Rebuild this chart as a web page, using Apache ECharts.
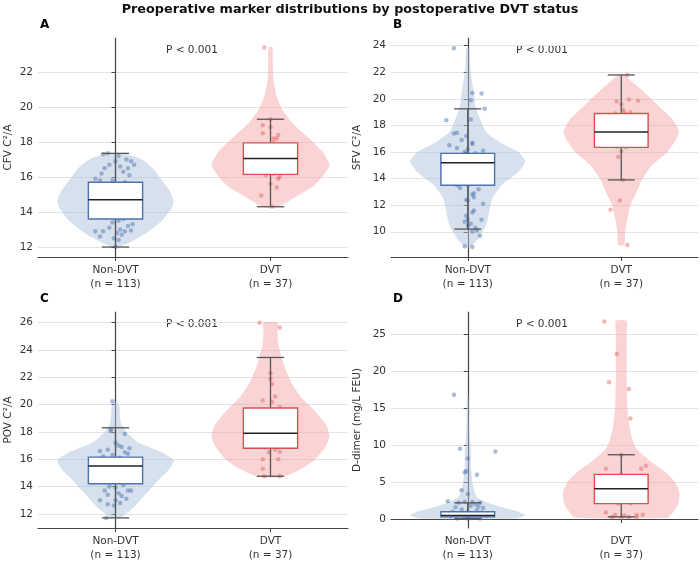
<!DOCTYPE html>
<html><head><meta charset="utf-8">
<script src="https://cdn.jsdelivr.net/npm/echarts@6/dist/echarts.min.js"></script>
<style>html,body{margin:0;padding:0;background:#fff}#c{width:700px;height:562px}</style>
</head><body><div id="c"></div>
<script>
const categories = ['Non-DVT\n(n = 113)', 'DVT\n(n = 37)'];
const panelLetters = ['A','B','C','D'];
const yNames = ['CFV C²/A','SFV C²/A','POV C²/A','D-dimer (mg/L FEU)'];
const yTicks = [[12,14,16,18,20,22],[10,12,14,16,18,20,22,24],[12,14,16,18,20,22,24,26],[0,5,10,15,20,25]];
const yRanges = [[11.43,23.94],[8.1,24.58],[10.96,26.78],[-1.2,27.99]];
// violin outlines: [value, half-width]
const violinA_non = [[12.0,0.02],[12.3,0.1],[12.8,0.2],[13.5,0.3],[14.2,0.36],[14.6,0.375],[15.2,0.35],[15.8,0.3],[16.5,0.24],[17.0,0.17],[17.35,0.05]];
const violinA_dvt = [[14.3,0.05],[14.8,0.15],[15.5,0.28],[16.2,0.35],[16.7,0.38],[17.4,0.34],[18.2,0.25],[19,0.15],[19.8,0.08],[20.6,0.04],[21.5,0.02],[22.5,0.015],[23.4,0.012]];
const violinB_non = [[8.9,0.02],[9.5,0.07],[10.5,0.12],[11.5,0.14],[12.5,0.16],[13.5,0.22],[14.5,0.33],[15.3,0.375],[16,0.33],[16.8,0.2],[17.5,0.12],[18.5,0.08],[19.5,0.05],[20.5,0.04],[21.5,0.025],[22.5,0.015],[23.8,0.01]];
const violinB_dvt = [[9,0.02],[10,0.025],[11,0.04],[12,0.06],[13,0.1],[14,0.14],[15,0.2],[16,0.3],[17,0.36],[17.6,0.375],[18.5,0.33],[19.5,0.24],[20.5,0.15],[21.3,0.07],[21.8,0.02]];
const violinC_non = [[11.7,0.03],[12.5,0.12],[13.5,0.2],[14.5,0.28],[15.3,0.35],[15.9,0.375],[16.5,0.3],[17.2,0.15],[18,0.07],[18.5,0.04],[19,0.03],[19.8,0.025],[20.2,0.01]];
const violinC_dvt = [[14.7,0.08],[15.3,0.2],[16,0.29],[17,0.36],[17.7,0.38],[18.5,0.36],[19.5,0.29],[20.5,0.2],[21.5,0.14],[22.5,0.1],[23.5,0.07],[24.5,0.05],[25.3,0.045],[26,0.045]];
const violinD_non = [[0.05,0.3],[0.5,0.375],[1,0.33],[1.5,0.24],[2,0.16],[2.5,0.1],[3,0.06],[4,0.04],[5,0.03],[6,0.025],[7,0.02],[8,0.02],[9,0.02],[10,0.018],[11,0.012],[13,0.008],[16.8,0.005]];
const violinD_dvt = [[0.2,0.3],[1,0.34],[2,0.37],[3.5,0.38],[5,0.35],[6.5,0.28],[8,0.18],[9.5,0.1],[11,0.07],[13,0.05],[15,0.04],[17,0.037],[19,0.035],[21,0.035],[23,0.035],[25,0.035],[26.8,0.035]];
// box stats: [low, q1, median, q3, high]
const boxA = [[12.0,13.6,14.7,15.7,17.35],[14.3,16.15,17.05,17.95,19.3]];
const boxB = [[10.2,13.5,15.2,15.9,19.25],[13.9,16.35,17.5,18.9,21.8]];
const boxC = [[11.7,14.2,15.5,16.15,18.3],[14.75,16.8,17.9,19.75,23.45]];
const boxD = [[0.05,0.3,0.5,1.0,2.2],[0.3,2.1,4.1,6.05,8.7]];
// points: [jitter offset, value]
const ptsA_non = [[-0.08,17.3],[-0.05,17.35],[0.02,17.2],[0.1,16.9],[-0.04,16.7],[0.03,16.6],[0.08,16.5],[0.12,16.7],[-0.07,16.5],[0.05,16.3],[-0.1,15.8],[-0.02,15.8],[0.06,15.7],[-0.13,15.9],[0.09,16.1],[-0.03,15.2],[0.04,14.8],[0.07,14.1],[-0.06,13.7],[0.02,13.5],[0.05,13.6],[-0.02,13.4],[0.08,13.2],[-0.04,13.1],[0.03,13.0],[0.06,12.9],[-0.08,12.9],[0.1,12.95],[-0.13,12.9],[0.01,12.8],[-0.1,12.6],[0.04,12.7],[-0.01,12.5],[0.02,12.4],[0.0,12.0],[-0.05,13.8],[0.11,13.3],[-0.09,16.2],[0.0,16.9],[0.07,17.0]];
const ptsA_dvt = [[-0.04,23.4],[0.0,19.3],[-0.05,18.95],[0.0,18.85],[-0.05,18.5],[0.02,18.2],[0.04,18.2],[0.05,18.4],[0.02,17.95],[-0.03,17.6],[0.05,17.3],[-0.06,16.8],[0.04,16.5],[0.02,16.2],[-0.03,16.1],[0.06,16.0],[0.05,15.9],[0.0,15.6],[0.04,15.4],[-0.06,14.95],[0.01,14.3],[-0.02,16.6],[0.03,17.0]];
const ptsB_non = [[-0.09,23.8],[0.03,20.45],[0.09,20.4],[0.02,19.9],[0.11,19.25],[-0.14,18.4],[0.02,18.45],[-0.09,17.4],[-0.07,17.45],[-0.01,17.2],[-0.04,16.9],[0.03,16.7],[0.03,16.6],[-0.12,16.5],[-0.07,16.3],[0.0,16.2],[0.1,16.1],[-0.02,16.0],[0.05,15.9],[0.0,13.5],[-0.05,13.3],[0.07,13.2],[0.04,12.9],[0.03,12.8],[0.04,12.6],[-0.01,12.4],[0.0,12.35],[0.1,12.1],[0.04,11.6],[0.03,11.45],[-0.01,11.2],[0.0,10.9],[0.09,10.9],[-0.02,10.75],[0.02,10.6],[0.0,10.45],[0.05,10.3],[0.06,10.1],[0.03,10.0],[0.08,9.7],[-0.02,8.9],[0.03,8.85],[-0.07,13.5],[0.06,14.2]];
const ptsB_dvt = [[0.04,21.8],[0.05,19.95],[0.11,19.85],[-0.03,19.8],[0.0,19.6],[0.01,19.2],[0.02,19.0],[0.06,19.0],[-0.04,18.9],[0.03,16.35],[0.0,16.05],[-0.02,15.65],[0.01,13.9],[-0.01,12.35],[-0.07,11.65],[0.04,9.0],[-0.03,16.4],[0.05,17.0],[-0.05,18.0],[0.02,17.4]];
const ptsC_non = [[-0.02,20.25],[-0.03,18.2],[-0.03,18.05],[0.06,17.85],[0.0,17.2],[0.02,17.0],[0.04,16.9],[-0.05,16.7],[-0.1,16.6],[0.08,16.4],[-0.08,16.2],[0.06,16.5],[-0.02,16.3],[0.03,16.1],[0.05,14.1],[-0.04,14.0],[0.0,13.9],[0.08,13.7],[-0.07,13.7],[0.1,13.7],[0.02,13.5],[0.04,13.3],[-0.05,13.4],[0.07,13.1],[0.0,13.0],[-0.1,13.0],[0.03,12.8],[-0.05,12.7],[-0.01,12.6],[-0.06,11.7],[0.02,14.4],[-0.02,14.7],[0.05,15.2],[-0.09,15.6],[0.09,16.8]];
const ptsC_dvt = [[-0.07,26.0],[0.06,25.65],[0.0,22.3],[0.0,21.9],[0.01,21.5],[0.03,20.6],[-0.05,20.3],[0.01,20.2],[0.06,19.8],[-0.04,16.85],[0.03,16.7],[-0.01,16.5],[0.06,16.55],[-0.05,16.0],[0.05,16.0],[-0.05,15.3],[-0.04,14.75],[0.06,14.75],[0.02,17.5],[-0.03,18.5],[0.04,19.0]];
const ptsD_non = [[-0.09,16.8],[-0.05,9.5],[0.18,9.15],[0.0,8.2],[-0.02,6.3],[-0.01,6.5],[0.06,6.0],[-0.04,3.9],[0.0,3.4],[-0.13,2.4],[-0.06,2.2],[-0.02,2.35],[0.03,2.3],[0.08,2.2],[0.05,2.0],[-0.08,1.6],[0.02,1.8],[0.07,1.7],[0.1,1.5],[-0.04,1.3],[0.06,1.2],[-0.1,1.0],[0.0,1.0],[0.09,0.9],[-0.06,0.7],[0.03,0.6],[0.12,0.5],[-0.11,0.4],[-0.02,0.3],[0.05,0.25],[-0.07,0.1],[0.0,0.05],[0.08,0.1],[0.02,0.15],[-0.03,0.5]];
const ptsD_dvt = [[-0.11,26.7],[-0.03,22.3],[-0.08,18.5],[0.05,17.6],[0.06,13.6],[0.0,8.7],[0.16,7.2],[-0.1,6.8],[0.13,6.8],[0.0,6.0],[0.06,2.1],[-0.02,2.1],[-0.1,0.9],[-0.04,0.6],[0.02,0.5],[0.1,0.55],[0.14,0.6],[-0.06,0.3],[0.05,0.3],[0.1,0.25],[0.0,0.2],[-0.02,3.5],[0.04,4.5]];
const pLabels = ['P < 0.001','P < 0.001','P < 0.001','P < 0.001'];

const violins = [[violinA_non,violinA_dvt],[violinB_non,violinB_dvt],[violinC_non,violinC_dvt],[violinD_non,violinD_dvt]];
const boxes = [boxA,boxB,boxC,boxD];
const pts = [[ptsA_non,ptsA_dvt],[ptsB_non,ptsB_dvt],[ptsC_non,ptsC_dvt],[ptsD_non,ptsD_dvt]];

const grids = [{left:38,top:38,width:310,height:219},{left:391,top:38,width:307,height:219},{left:38,top:312,width:310,height:218},{left:391,top:312,width:307,height:218}];
const fills = ['rgba(176,196,222,0.5)','rgba(244,160,160,0.45)'];
const strokes = ['#4c72b0','#dd4f4f'];
const dots = ['rgba(76,114,176,0.6)','rgba(221,90,90,0.55)'];
const FONT = 'DejaVu Sans';
const axColor = '#444';

const xAxis=[], yAxis=[], series=[], graphic=[];
for (let i=0;i<4;i++){
  xAxis.push({gridIndex:i,type:'value',min:-0.5,max:1.5,
    axisLine:{show:true,lineStyle:{color:axColor,width:1.2}},
    axisTick:{show:true,customValues:[0,1],length:4,lineStyle:{color:axColor}},
    axisLabel:{customValues:[0,1],formatter:v=>categories[Math.round(v)],color:'#333',fontFamily:FONT,fontSize:10.5,lineHeight:14,margin:6},
    splitLine:{show:false}});
  yAxis.push({gridIndex:i,type:'value',min:yRanges[i][0],max:yRanges[i][1],
    name:yNames[i],nameLocation:'middle',nameGap:i%2? 28:24,nameTextStyle:{color:'#333',fontFamily:FONT,fontSize:10.5},
    axisLine:{show:true,lineStyle:{color:axColor,width:1.2}},
    axisTick:{show:true,customValues:yTicks[i],length:4,lineStyle:{color:axColor}},
    axisLabel:{customValues:yTicks[i],color:'#333',fontFamily:FONT,fontSize:10.5,margin:5},
    splitLine:{show:true,lineStyle:{color:'#e3e3e3',width:1}}});
  for (let g=0;g<2;g++){
    const prof = violins[i][g];
    series.push({type:'custom',xAxisIndex:i,yAxisIndex:i,data:[[g]],silent:true,z:1,
      renderItem:(params,api)=>{
        const left = prof.map(p=>api.coord([g-p[1],p[0]]));
        const right = prof.slice().reverse().map(p=>api.coord([g+p[1],p[0]]));
        return {type:'polygon',shape:{points:left.concat(right),smooth:0.2},style:{fill:fills[g]}};
      }});
    series.push({type:'scatter',xAxisIndex:i,yAxisIndex:i,z:2,symbolSize:4.5,silent:true,
      itemStyle:{color:dots[g]},data:pts[i][g].map(p=>[g+p[0],p[1]])});
    const b = boxes[i][g];
    series.push({type:'custom',xAxisIndex:i,yAxisIndex:i,data:[[g]],silent:true,z:3,
      renderItem:(params,api)=>{
        const hw=0.175, cw=0.088;
        const lo=api.coord([g,b[0]]), hi=api.coord([g,b[4]]);
        const q1l=api.coord([g-hw,b[1]]), q3r=api.coord([g+hw,b[3]]);
        const ml=api.coord([g-hw,b[2]]), mr=api.coord([g+hw,b[2]]);
        const cl=api.coord([g-cw,0])[0], cr=api.coord([g+cw,0])[0];
        const ws={stroke:'#555',lineWidth:1.3};
        return {type:'group',children:[
          {type:'line',shape:{x1:lo[0],y1:lo[1],x2:lo[0],y2:hi[1]},style:ws},
          {type:'line',shape:{x1:cl,y1:lo[1],x2:cr,y2:lo[1]},style:ws},
          {type:'line',shape:{x1:cl,y1:hi[1],x2:cr,y2:hi[1]},style:ws},
          {type:'rect',shape:{x:q1l[0],y:q3r[1],width:q3r[0]-q1l[0],height:q1l[1]-q3r[1]},style:{fill:'#fff',stroke:strokes[g],lineWidth:1.4}},
          {type:'line',shape:{x1:ml[0],y1:ml[1],x2:mr[0],y2:mr[1]},style:{stroke:'#222',lineWidth:1.5}}
        ]};
      }});
  }
  const gr=grids[i];
  graphic.push({type:'text',left:gr.left+2,top:gr.top-19,style:{text:panelLetters[i],font:'bold 12px '+FONT,fill:'#000'}});
  graphic.push({type:'text',left:gr.left+(i%2?125:128),top:gr.top+7,style:{text:pLabels[i],font:'10.5px '+FONT,fill:'#333'}});
}
graphic.push({type:'text',left:'center',top:3,style:{text:'Preoperative marker distributions by postoperative DVT status',font:'bold 12.8px '+FONT,fill:'#111'}});

const chart = echarts.init(document.getElementById('c'));
chart.setOption({animation:false,backgroundColor:'#fff',grid:grids,xAxis,yAxis,series,graphic});
</script></body></html>
